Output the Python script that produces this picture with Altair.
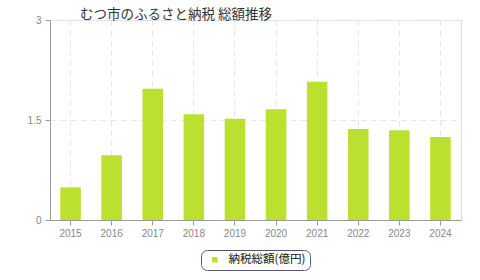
import altair as alt
import pandas as pd

years = ["2015", "2016", "2017", "2018", "2019", "2020", "2021", "2022", "2023", "2024"]
values = [0.49, 0.97, 1.97, 1.585, 1.52, 1.66, 2.075, 1.365, 1.345, 1.245]
series_name = "納税総額(億円)"
title_text = "むつ市のふるさと納税  総額推移"

df = pd.DataFrame({"year": years, "value": values, "series": [series_name] * len(years)})

JP = "Noto Sans CJK JP"

bars = alt.Chart(df).mark_bar(color="#bbe02f").encode(
    x=alt.X("year:N", sort=years, title=None,
            scale=alt.Scale(paddingInner=0.5, paddingOuter=0.25),
            axis=alt.Axis(labelAngle=0, grid=True, gridDash=[6, 4], gridColor="#e6e6e6",
                          bandPosition=0.5, domainColor="#999999", tickColor="#999999",
                          tickSize=5, labelColor="#888888", labelFontSize=10, labelPadding=3)),
    y=alt.Y("value:Q", title=None,
            scale=alt.Scale(domain=[0, 3]),
            axis=alt.Axis(values=[0, 1.5, 3], labelExpr="datum.value + ''", grid=True,
                          gridDash=[6, 4], gridColor="#e6e6e6",
                          domainColor="#999999", tickColor="#999999", tickSize=5,
                          labelColor="#888888", labelFontSize=10, labelPadding=4)),
    fill=alt.Fill("series:N", scale=alt.Scale(range=["#bbe02f"]),
                  legend=alt.Legend(title=None, orient="none", legendX=151, legendY=230,
                                    symbolType="square", symbolSize=30, labelFontSize=11.5,
                                    labelFont=JP, labelColor="#111111", labelOffset=8,
                                    strokeColor="#555577", fillColor="#ffffff",
                                    cornerRadius=6, padding=4, symbolOffset=4)),
)

chart = bars.properties(
    width=411, height=200,
    title=alt.TitleParams(title_text, anchor="start", frame="group", dx=30, dy=10, offset=4,
                          fontSize=13.5, font=JP, fontWeight="normal", color="#333333"),
    padding={"left": 50, "top": 20, "right": 19, "bottom": 60},
    autosize=alt.AutoSizeParams(type="none"),
).configure_view(
    fill="#fafafa", stroke="#dddddd"
).configure(background="#ffffff")

chart.save("out.html", embed_options={"renderer": "svg", "actions": False})
